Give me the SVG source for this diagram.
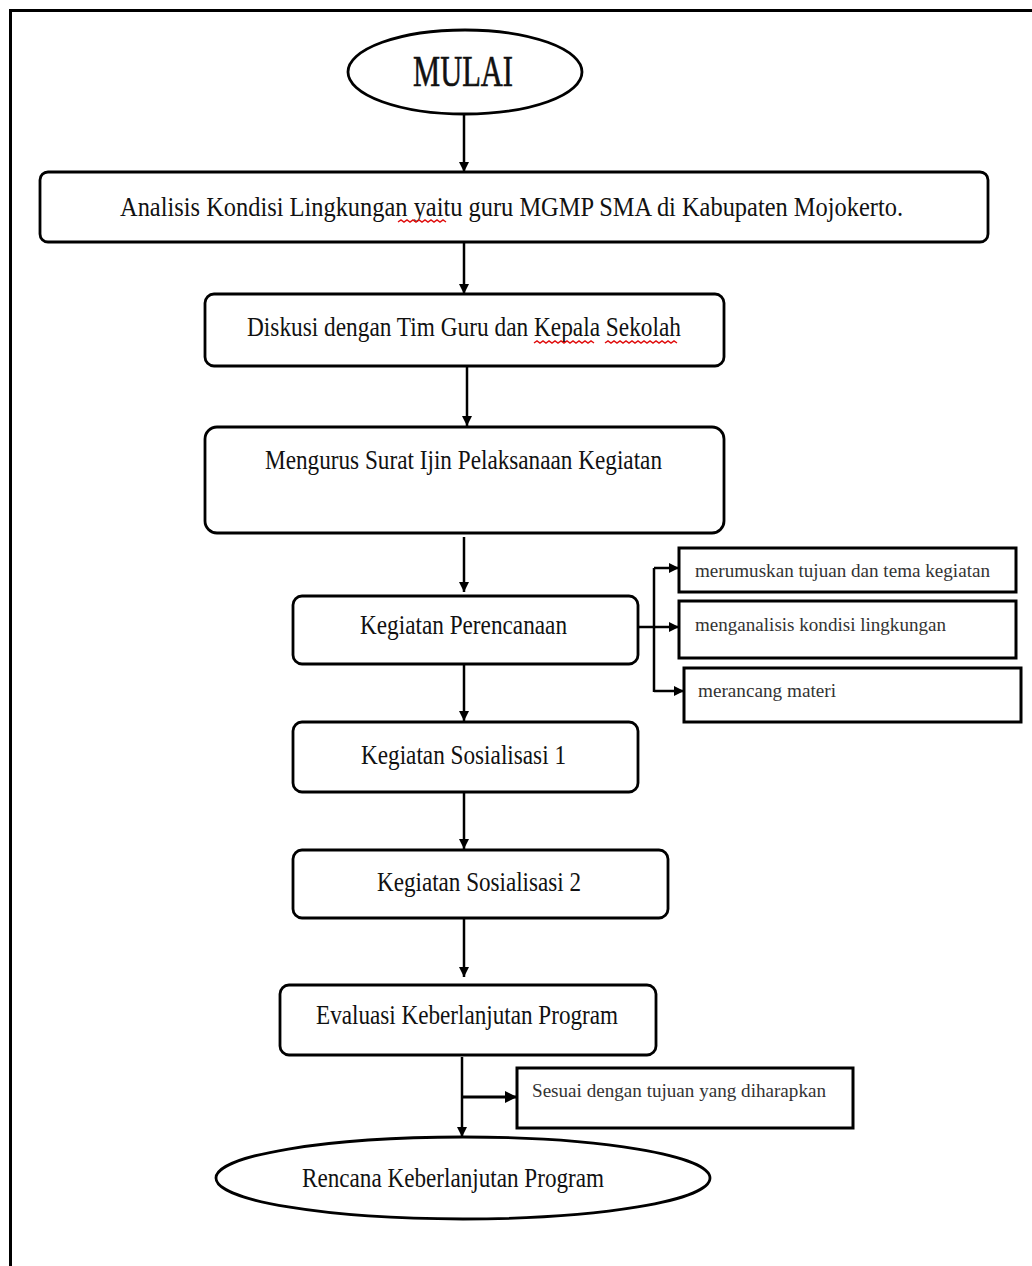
<svg xmlns="http://www.w3.org/2000/svg" width="1032" height="1266" viewBox="0 0 1032 1266">
<style>
.b{fill:#fff;stroke:#000;stroke-width:2.8}
.s{fill:#fff;stroke:#000;stroke-width:3}
.t{font-family:"Liberation Serif","Times New Roman",serif;font-size:27px;fill:#111;text-anchor:start}
.ts{font-family:"Liberation Serif","Times New Roman",serif;font-size:19px;fill:#333;text-anchor:start}
.c{fill:none;stroke:#000;stroke-width:2.5}
.sq{fill:none;stroke:#e01010;stroke-width:1.5}
</style>
<defs>
<marker id="ah" viewBox="0 0 10 10" refX="10" refY="5" markerWidth="4" markerHeight="4" markerUnits="strokeWidth" orient="auto">
<path d="M0,0 L10,5 L0,10 z" fill="#000"/>
</marker>
</defs>
<rect width="1032" height="1266" fill="#fff"/>
<path d="M10.5,1266 V10.5 H1032" fill="none" stroke="#000" stroke-width="3"/>

<g id="connectors">
<line class="c" x1="464" y1="115" x2="464" y2="172" marker-end="url(#ah)"/>
<line class="c" x1="464" y1="242" x2="464" y2="294" marker-end="url(#ah)"/>
<line class="c" x1="467" y1="367" x2="467" y2="426" marker-end="url(#ah)"/>
<line class="c" x1="464" y1="537" x2="464" y2="592" marker-end="url(#ah)"/>
<line class="c" x1="464" y1="665" x2="464" y2="721" marker-end="url(#ah)"/>
<line class="c" x1="464" y1="793" x2="464" y2="849" marker-end="url(#ah)"/>
<line class="c" x1="464" y1="919" x2="464" y2="977" marker-end="url(#ah)"/>
<path class="c" d="M638,627 H654 M654,568 V692"/>
<line class="c" x1="654" y1="568" x2="679" y2="568" marker-end="url(#ah)"/>
<line class="c" x1="654" y1="627" x2="679" y2="627" marker-end="url(#ah)"/>
<line class="c" x1="654" y1="691" x2="684" y2="691" marker-end="url(#ah)"/>
<line class="c" x1="462" y1="1057" x2="462" y2="1137" marker-end="url(#ah)"/>
<line class="c" x1="462" y1="1097" x2="517" y2="1097" marker-end="url(#ah)" style="stroke-width:3"/>
</g>

<g id="mulai">
<ellipse class="b" cx="465" cy="72" rx="117" ry="42"/>
<text class="t" x="413" y="86" style="font-size:44px;stroke:#111;stroke-width:0.6" textLength="100" lengthAdjust="spacingAndGlyphs">MULAI</text>
</g>

<g id="analisis">
<rect class="b" x="40" y="172" width="948" height="70" rx="8"/>
<text class="t" x="120" y="216" textLength="783" lengthAdjust="spacingAndGlyphs">Analisis Kondisi Lingkungan yaitu guru MGMP SMA di Kabupaten Mojokerto.</text>
<path class="sq" d="M398,222 l3,-2 l3,2 l3,-2 l3,2 l3,-2 l3,2 l3,-2 l3,2 l3,-2 l3,2 l3,-2 l3,2 l3,-2 l3,2 l3,-2 l3,2"/>
</g>

<g id="diskusi">
<rect class="b" x="205" y="294" width="519" height="72" rx="9"/>
<text class="t" x="247" y="336" textLength="434" lengthAdjust="spacingAndGlyphs">Diskusi dengan Tim Guru dan Kepala Sekolah</text>
<path class="sq" d="M534,343 l3,-2 l3,2 l3,-2 l3,2 l3,-2 l3,2 l3,-2 l3,2 l3,-2 l3,2 l3,-2 l3,2 l3,-2 l3,2 l3,-2 l3,2 l3,-2 l3,2 l3,-2 l3,2"/>
<path class="sq" d="M605,343 l3,-2 l3,2 l3,-2 l3,2 l3,-2 l3,2 l3,-2 l3,2 l3,-2 l3,2 l3,-2 l3,2 l3,-2 l3,2 l3,-2 l3,2 l3,-2 l3,2 l3,-2 l3,2 l3,-2 l3,2 l3,-2 l3,2"/>
</g>

<g id="surat">
<rect class="b" x="205" y="427" width="519" height="106" rx="12"/>
<text class="t" x="265" y="469" textLength="397" lengthAdjust="spacingAndGlyphs">Mengurus Surat Ijin Pelaksanaan Kegiatan</text>
</g>

<g id="perencanaan">
<rect class="b" x="293" y="596" width="345" height="68" rx="9"/>
<text class="t" x="360" y="634" textLength="207" lengthAdjust="spacingAndGlyphs">Kegiatan Perencanaan</text>
</g>

<g id="merumuskan">
<rect class="s" x="679" y="548" width="337" height="44"/>
<text class="ts" x="695" y="577" textLength="295" lengthAdjust="spacingAndGlyphs">merumuskan tujuan dan tema kegiatan</text>
</g>

<g id="menganalisis">
<rect class="s" x="679" y="601" width="337" height="57"/>
<text class="ts" x="695" y="631" textLength="251" lengthAdjust="spacingAndGlyphs">menganalisis kondisi lingkungan</text>
</g>

<g id="merancang">
<rect class="s" x="684" y="668" width="337" height="54"/>
<text class="ts" x="698" y="697" textLength="138" lengthAdjust="spacingAndGlyphs">merancang materi</text>
</g>

<g id="sosialisasi1">
<rect class="b" x="293" y="722" width="345" height="70" rx="9"/>
<text class="t" x="361" y="764" textLength="205" lengthAdjust="spacingAndGlyphs">Kegiatan Sosialisasi 1</text>
</g>

<g id="sosialisasi2">
<rect class="b" x="293" y="850" width="375" height="68" rx="9"/>
<text class="t" x="377" y="891" textLength="204" lengthAdjust="spacingAndGlyphs">Kegiatan Sosialisasi 2</text>
</g>

<g id="evaluasi">
<rect class="b" x="280" y="985" width="376" height="70" rx="9"/>
<text class="t" x="316" y="1024" textLength="302" lengthAdjust="spacingAndGlyphs">Evaluasi Keberlanjutan Program</text>
</g>

<g id="sesuai">
<rect class="s" x="517" y="1068" width="336" height="60"/>
<text class="ts" x="532" y="1097" textLength="294" lengthAdjust="spacingAndGlyphs">Sesuai dengan tujuan yang diharapkan</text>
</g>

<g id="rencana">
<ellipse class="b" cx="463" cy="1178" rx="247" ry="41"/>
<text class="t" x="302" y="1187" textLength="302" lengthAdjust="spacingAndGlyphs">Rencana Keberlanjutan Program</text>
</g>
</svg>
